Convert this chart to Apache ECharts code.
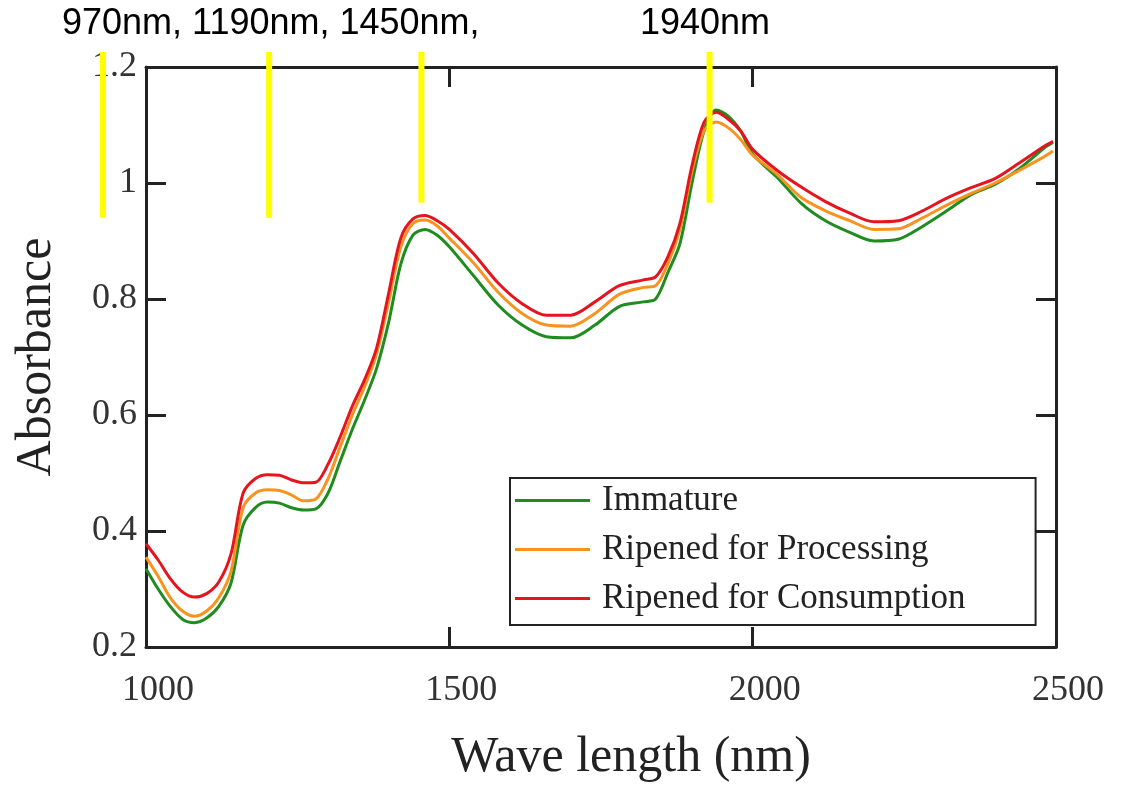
<!DOCTYPE html>
<html>
<head>
<meta charset="utf-8">
<script src="https://cdn.jsdelivr.net/npm/echarts@6/dist/echarts.min.js"></script>
<style>
  html, body { margin: 0; padding: 0; background: #fff; }
  #main { width: 1126px; height: 792px; }
</style>
</head>
<body>
<div id="main"></div>
<script>
// wavelength (nm)
var waveLen = [1000, 1020, 1040, 1060, 1080, 1100, 1120, 1140, 1160, 1180, 1200, 1220, 1240, 1260, 1280,
  1300, 1320, 1340, 1360, 1380, 1400, 1420, 1440, 1460, 1480, 1500, 1540, 1580, 1620, 1660, 1700,
  1740, 1780, 1820, 1840, 1860, 1880, 1900, 1920, 1940, 1960, 1980, 2000, 2040, 2080, 2120, 2160,
  2200, 2240, 2280, 2320, 2360, 2400, 2440, 2480, 2495];

var immature = [0.335, 0.300, 0.270, 0.248, 0.242, 0.250, 0.270, 0.310, 0.410, 0.440, 0.450, 0.448, 0.440, 0.436, 0.438,
  0.465, 0.520, 0.575, 0.625, 0.680, 0.760, 0.860, 0.910, 0.920, 0.910, 0.890, 0.840, 0.790, 0.755, 0.735, 0.733,
  0.755, 0.787, 0.795, 0.800, 0.845, 0.895, 1.000, 1.090, 1.126, 1.115, 1.090, 1.050, 1.010, 0.965, 0.935, 0.915,
  0.900, 0.903, 0.925, 0.952, 0.980, 0.998, 1.025, 1.060, 1.070];

var processing = [0.355, 0.322, 0.285, 0.262, 0.253, 0.262, 0.285, 0.330, 0.440, 0.465, 0.471, 0.470, 0.462, 0.452, 0.455,
  0.490, 0.545, 0.600, 0.648, 0.705, 0.795, 0.890, 0.930, 0.936, 0.926, 0.905, 0.862, 0.812, 0.775, 0.755, 0.753,
  0.775, 0.808, 0.820, 0.823, 0.860, 0.920, 1.020, 1.090, 1.105, 1.095, 1.075, 1.048, 1.015, 0.975, 0.952, 0.935,
  0.920, 0.921, 0.940, 0.962, 0.982, 1.000, 1.022, 1.045, 1.055];

var consumption = [0.378, 0.350, 0.318, 0.295, 0.286, 0.292, 0.312, 0.360, 0.465, 0.490, 0.497, 0.496, 0.488, 0.483, 0.484,
  0.515, 0.562, 0.615, 0.660, 0.715, 0.810, 0.905, 0.938, 0.944, 0.935, 0.920, 0.878, 0.828, 0.792, 0.772, 0.772,
  0.795, 0.823, 0.833, 0.838, 0.872, 0.930, 1.030, 1.105, 1.122, 1.110, 1.090, 1.058, 1.022, 0.993, 0.968, 0.948,
  0.933, 0.935, 0.952, 0.974, 0.992, 1.008, 1.035, 1.063, 1.072];

var seriesNames = ['Immature', 'Ripened for Processing', 'Ripened for Consumption'];
var seriesColors = ['#1e8c1e', '#f7931e', '#e6141e'];

// yellow marker annotations (drawn roughly where the source put them)
var markWave = [929, 1203, 1454, 1929];
var markTop = [1.226, 1.226, 1.226, 1.226];
var markBottom = [0.940, 0.940, 0.966, 0.966];
var topTexts = ['970nm, 1190nm, 1450nm,', '1940nm'];

function pairs(ys) {
  var out = [];
  for (var i = 0; i < waveLen.length; i++) out.push([waveLen[i], ys[i]]);
  return out;
}

var serif = 'Liberation Serif, Times New Roman, serif';
var frameLine = { show: true, onZero: false, lineStyle: { color: '#222', width: 3 } };
var inTick = { show: true, inside: true, length: 20, lineStyle: { color: '#222', width: 3 } };

var chart = echarts.init(document.getElementById('main'));
var option = {
  animation: false,
  backgroundColor: '#fff',
  grid: { left: 146, right: 70, top: 67, bottom: 145, outerBoundsMode: 'none' },
  legend: {
    data: seriesNames,
    orient: 'vertical',
    left: 510,
    top: 478,
    icon: 'rect',
    itemWidth: 75,
    itemHeight: 3,
    itemGap: 14,
    itemTextGap: 20,
    padding: [5, 70, 9, 5],
    borderColor: '#222',
    borderWidth: 2,
    backgroundColor: '#fff',
    textStyle: { fontFamily: serif, fontSize: 35, color: '#222', padding: [0, 0, 0, 7] }
  },
  xAxis: [
    {
      type: 'value', position: 'bottom', min: 1000, max: 2500, interval: 500,
      name: 'Wave length (nm)', nameLocation: 'middle', nameGap: 86,
      nameTextStyle: { fontFamily: serif, fontSize: 50, color: '#222', padding: [0, 0, 0, 60] },
      axisLine: frameLine, axisTick: inTick, splitLine: { show: false },
      axisLabel: { fontFamily: serif, fontSize: 36, color: '#333', margin: 26, padding: [0, 0, 0, 24],
        formatter: function (v) { return String(v); } }
    },
    {
      type: 'value', position: 'top', min: 1000, max: 2500, interval: 500,
      axisLine: frameLine, axisTick: inTick, splitLine: { show: false }, axisLabel: { show: false }
    }
  ],
  yAxis: [
    {
      type: 'value', position: 'left', min: 0.2, max: 1.2, interval: 0.2,
      name: 'Absorbance', nameLocation: 'middle', nameGap: 84, nameRotate: 90,
      nameTextStyle: { fontFamily: serif, fontSize: 50, color: '#222' },
      axisLine: frameLine, axisTick: inTick, splitLine: { show: false },
      axisLabel: { fontFamily: serif, fontSize: 36, color: '#333', margin: 9, padding: [16, 0, 0, 0],
        formatter: function (v) { return String(Math.round(v * 10) / 10); } }
    },
    {
      type: 'value', position: 'right', min: 0.2, max: 1.2, interval: 0.2,
      axisLine: frameLine, axisTick: inTick, splitLine: { show: false }, axisLabel: { show: false }
    }
  ],
  series: [
    { name: seriesNames[0], type: 'line', data: pairs(immature), showSymbol: false, smooth: 0.3,
      lineStyle: { color: seriesColors[0], width: 3 }, itemStyle: { color: seriesColors[0] } },
    { name: seriesNames[1], type: 'line', data: pairs(processing), showSymbol: false, smooth: 0.3,
      lineStyle: { color: seriesColors[1], width: 3 }, itemStyle: { color: seriesColors[1] } },
    { name: seriesNames[2], type: 'line', data: pairs(consumption), showSymbol: false, smooth: 0.3,
      lineStyle: { color: seriesColors[2], width: 3 }, itemStyle: { color: seriesColors[2] } }
  ]
};
chart.setOption(option);

// annotations on top: yellow bars placed through the axis scales
var graphics = [];
for (var i = 0; i < markWave.length; i++) {
  var p1 = chart.convertToPixel({ gridIndex: 0 }, [markWave[i], markTop[i]]);
  var p2 = chart.convertToPixel({ gridIndex: 0 }, [markWave[i], markBottom[i]]);
  graphics.push({
    type: 'line', z: 100,
    shape: { x1: p1[0], y1: p1[1], x2: p2[0], y2: p2[1] },
    style: { stroke: '#ffff00', lineWidth: 6 }
  });
}
graphics.push({
  type: 'text', left: 62, top: 6, z: 100,
  style: { text: topTexts[0], font: '36px "Liberation Sans", Arial, sans-serif', fill: '#000' }
});
graphics.push({
  type: 'text', left: 640, top: 6, z: 100,
  style: { text: topTexts[1], font: '36px "Liberation Sans", Arial, sans-serif', fill: '#000' }
});
chart.setOption({ graphic: graphics });
</script>
</body>
</html>
